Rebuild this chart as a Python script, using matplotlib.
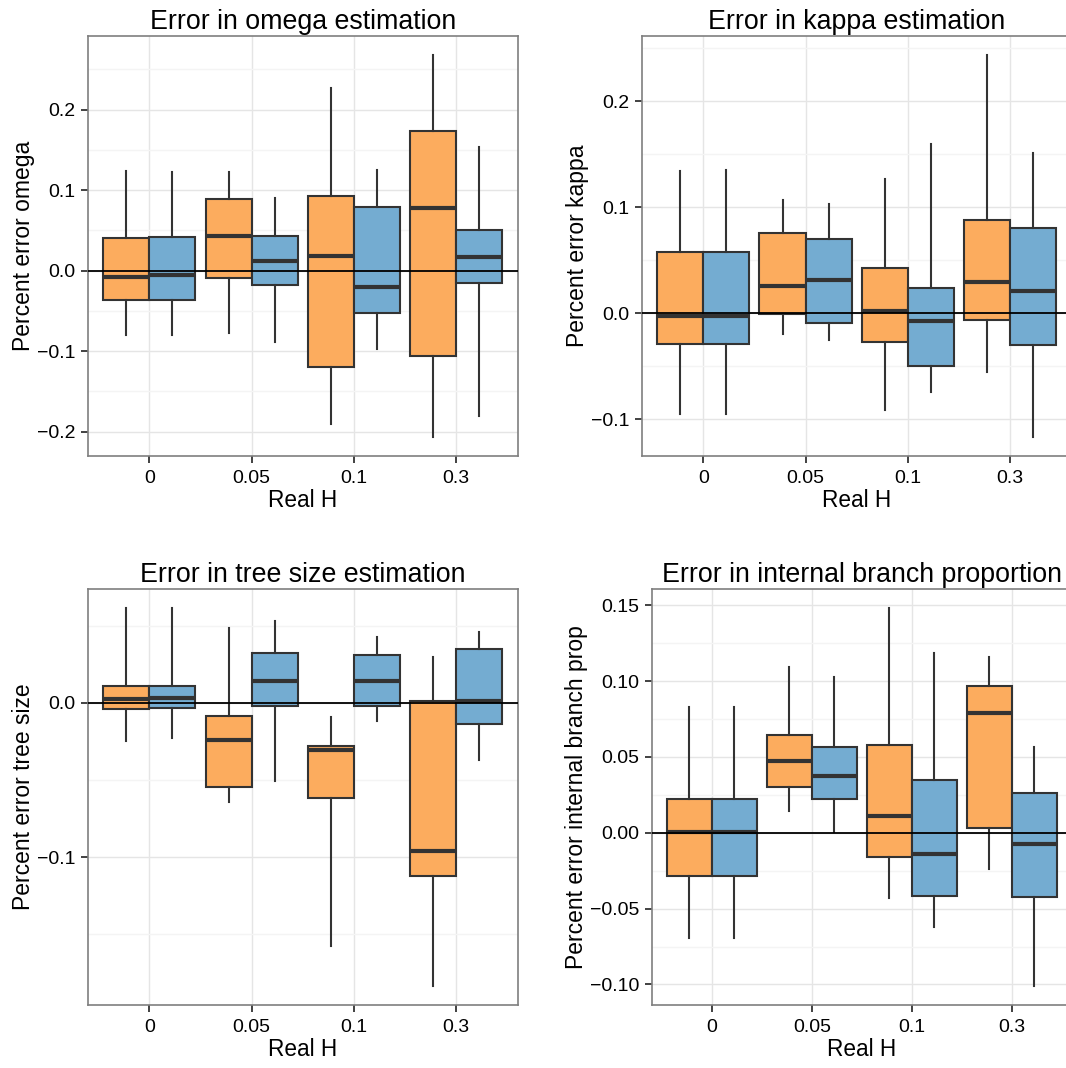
import matplotlib
matplotlib.use("Agg")
import matplotlib.pyplot as plt
from matplotlib.ticker import FixedLocator, FuncFormatter

plt.rcParams['font.family'] = ['Liberation Sans', 'DejaVu Sans']

categories = ["0", "0.05", "0.1", "0.3"]

# five-number summaries per category: [whisker low, Q1, median, Q3, whisker high]
omega_orange = [[-0.080, -0.037, -0.0075, 0.041, 0.124],
                [-0.078, -0.0095, 0.0427, 0.089, 0.122],
                [-0.191, -0.1197, 0.018, 0.093, 0.227],
                [-0.2066, -0.1064, 0.078, 0.1735, 0.268]]
omega_blue = [[-0.080, -0.037, -0.0054, 0.0414, 0.1226],
              [-0.0886, -0.0178, 0.0124, 0.043, 0.090],
              [-0.0977, -0.0526, -0.0203, 0.0787, 0.125],
              [-0.1805, -0.0153, 0.0166, 0.050, 0.154]]

kappa_orange = [[-0.095, -0.0289, -0.0022, 0.0582, 0.1346],
                [-0.020, -0.001, 0.026, 0.0758, 0.107],
                [-0.0909, -0.0274, 0.0022, 0.0428, 0.1264],
                [-0.0557, -0.006, 0.0299, 0.088, 0.2437]]
kappa_blue = [[-0.095, -0.029, -0.0022, 0.058, 0.135],
              [-0.0255, -0.0088, 0.0318, 0.070, 0.103],
              [-0.0739, -0.050, -0.0069, 0.0242, 0.1594],
              [-0.1167, -0.0299, 0.0208, 0.0805, 0.151]]

tree_orange = [[-0.0246, -0.0039, 0.0022, 0.0108, 0.0613],
               [-0.0646, -0.0546, -0.0238, -0.0084, 0.0486],
               [-0.1577, -0.0616, -0.0307, -0.0283, -0.0091],
               [-0.1836, -0.1125, -0.0959, 0.0013, 0.0294]]
tree_blue = [[-0.0229, -0.0035, 0.0028, 0.011, 0.0613],
             [-0.051, -0.0022, 0.0143, 0.0324, 0.0527],
             [-0.0117, -0.0022, 0.014, 0.0307, 0.0425],
             [-0.0369, -0.0138, 0.0013, 0.0348, 0.0456]]

branch_orange = [[-0.0697, -0.0286, 0.0004, 0.0224, 0.0827],
                 [0.0141, 0.0303, 0.0471, 0.0642, 0.1095],
                 [-0.0427, -0.0158, 0.0112, 0.0578, 0.148],
                 [-0.024, 0.0029, 0.0792, 0.097, 0.1161]]
branch_blue = [[-0.0697, -0.0286, 0.0004, 0.0224, 0.0827],
               [0.0007, 0.0222, 0.0374, 0.0565, 0.1029],
               [-0.062, -0.042, -0.0143, 0.035, 0.1185],
               [-0.1011, -0.0422, -0.0075, 0.0262, 0.0565]]

titles = ["Error in omega estimation", "Error in kappa estimation",
          "Error in tree size estimation", "Error in internal branch proportion"]
ylabels = ["Percent error omega", "Percent error kappa",
           "Percent error tree size", "Percent error internal branch prop"]
xlabel = "Real H"

orange = "#FCAC5E"
blue = "#74ACD1"
edge = "#333333"

panels = [
    dict(data=(omega_orange, omega_blue), major=[-0.2, -0.1, 0.0, 0.1, 0.2],
         minor=[-0.25, -0.15, -0.05, 0.05, 0.15, 0.25], dec=1,
         rect=[0.0826, 0.5730, 0.4030, 0.3935]),
    dict(data=(kappa_orange, kappa_blue), major=[-0.1, 0.0, 0.1, 0.2],
         minor=[-0.15, -0.05, 0.05, 0.15, 0.25], dec=1,
         rect=[0.6021, 0.5730, 0.4031, 0.3935]),
    dict(data=(tree_orange, tree_blue), major=[-0.1, 0.0],
         minor=[-0.15, -0.05, 0.05], dec=1,
         rect=[0.0826, 0.0590, 0.4030, 0.3892]),
    dict(data=(branch_orange, branch_blue), major=[-0.10, -0.05, 0.0, 0.05, 0.10, 0.15],
         minor=[-0.125, -0.075, -0.025, 0.025, 0.075, 0.125], dec=2,
         rect=[0.6116, 0.0590, 0.3936, 0.3892]),
]

fig = plt.figure(figsize=(10.66, 10.68), dpi=100)

def stats_from(summary):
    out = []
    for lo, q1, med, q3, hi in summary:
        out.append(dict(whislo=lo, q1=q1, med=med, q3=q3, whishi=hi, fliers=[]))
    return out

def make_fmt(dec):
    def f(v, _):
        s = f"{v:.{dec}f}"
        if s.startswith("-"):
            if float(s) == 0:
                s = s[1:]
            else:
                s = "\u2212" + s[1:]
        return s
    return FuncFormatter(f)

for i, p in enumerate(panels):
    ax = fig.add_axes(p["rect"])
    ax.set_facecolor("white")
    n = len(categories)
    pos = list(range(1, n + 1))
    for series, color, off in zip(p["data"], (orange, blue), (-0.225, 0.225)):
        ax.bxp(stats_from(series), positions=[x + off for x in pos], widths=0.45,
               patch_artist=True, showfliers=False, showcaps=False,
               boxprops=dict(facecolor=color, edgecolor=edge, linewidth=1.5),
               medianprops=dict(color=edge, linewidth=3.0, solid_capstyle="butt"),
               whiskerprops=dict(color=edge, linewidth=1.5),
               manage_ticks=False, zorder=3)
    ax.axhline(0, color="black", linewidth=1.3, zorder=5)

    allv = [v for s in p["data"] for row in s for v in row]
    lo, hi = min(allv), max(allv)
    span = hi - lo
    ax.set_ylim(lo - 0.05 * span, hi + 0.05 * span)
    ax.set_xlim(0.4, n + 0.6)

    ax.set_xticks(pos)
    ax.set_xticklabels(categories)
    ax.yaxis.set_major_locator(FixedLocator(p["major"]))
    ax.yaxis.set_minor_locator(FixedLocator(p["minor"]))
    ax.yaxis.set_major_formatter(make_fmt(p["dec"]))

    ax.grid(True, which="major", color="#E5E5E5", linewidth=1.0, zorder=0)
    ax.grid(True, which="minor", axis="y", color="#F4F4F4", linewidth=1.0, zorder=0)
    ax.set_axisbelow(True)
    ax.tick_params(axis="both", which="major", length=5, width=1.3, color="#333333",
                   labelsize=14, labelcolor="black")
    ax.tick_params(axis="x", which="major", pad=5)
    ax.tick_params(axis="y", which="major", pad=4)
    ax.tick_params(axis="y", which="minor", length=0)
    for s in ax.spines.values():
        s.set_color("#7F7F7F")
        s.set_linewidth(1.2)
    ax.set_title(titles[i], fontsize=19.3, pad=5)
    ax.set_xlabel(xlabel, fontsize=16.3, labelpad=1.5)
    ax.set_ylabel(ylabels[i], fontsize=16.5, labelpad=1.5)

fig.savefig("out.png", dpi=100)
